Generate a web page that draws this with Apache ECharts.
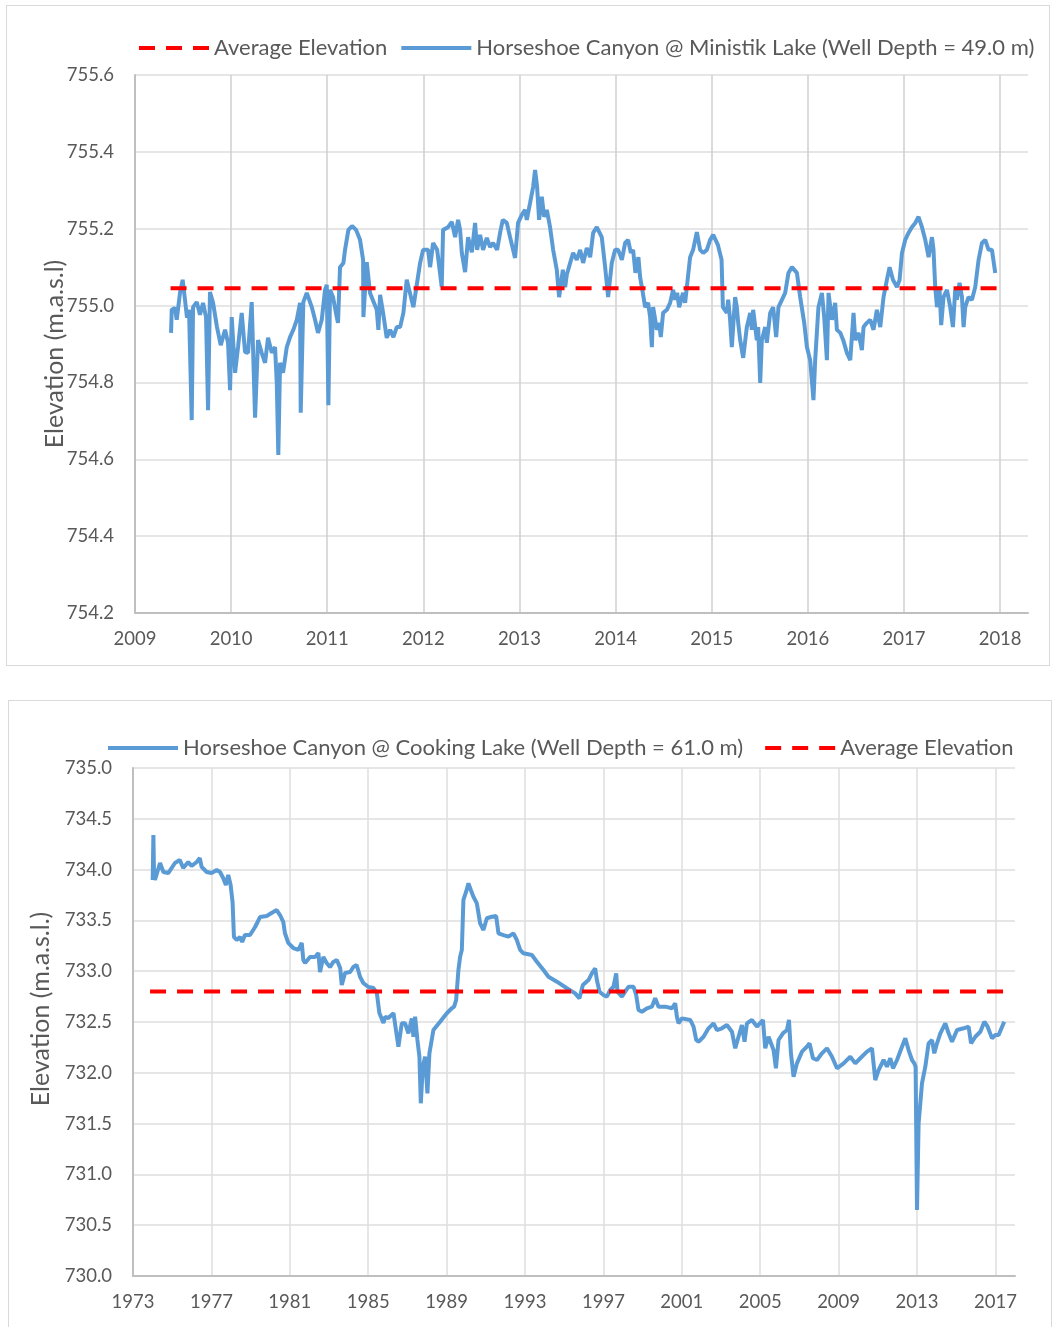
<!DOCTYPE html>
<html>
<head>
<meta charset="utf-8">
<script src="https://cdn.jsdelivr.net/npm/echarts@6/dist/echarts.min.js"></script>
<style>
  body { margin: 0; background: #fff; width: 1052px; height: 1327px; position: relative; overflow: hidden; }
  .box { position: absolute; border: 1px solid #d9d9d9; box-sizing: border-box; }
  #top { left: 6px; top: 5px; width: 1044px; height: 661px; }
  #bottom { left: 8px; top: 700px; width: 1044px; height: 632px; }
</style>
</head>
<body>
<div id="top" class="box"></div>
<div id="bottom" class="box"></div>
<script>
// Ministik Lake well (decimal year, elevation m.a.s.l.)
const ministikYears = [
  2009.375, 2009.382, 2009.416, 2009.434, 2009.468, 2009.496, 2009.520, 2009.541, 2009.562, 2009.590,
  2009.604, 2009.642, 2009.676, 2009.708, 2009.739, 2009.760, 2009.780, 2009.812, 2009.853, 2009.892,
  2009.937, 2009.968, 2009.989, 2010.006, 2010.041, 2010.072, 2010.110, 2010.145, 2010.176, 2010.214,
  2010.249, 2010.280, 2010.318, 2010.353, 2010.384, 2010.423, 2010.457, 2010.475, 2010.491, 2010.509,
  2010.540, 2010.579, 2010.613, 2010.647, 2010.683, 2010.717, 2010.724, 2010.751, 2010.787, 2010.839,
  2010.873, 2010.904, 2010.943, 2010.977, 2010.995, 2011.012, 2011.029, 2011.060, 2011.099, 2011.112,
  2011.133, 2011.168, 2011.185, 2011.220, 2011.258, 2011.300, 2011.341, 2011.373, 2011.376, 2011.411,
  2011.445, 2011.515, 2011.532, 2011.550, 2011.581, 2011.619, 2011.654, 2011.688, 2011.723, 2011.758,
  2011.792, 2011.827, 2011.896, 2011.966, 2011.997, 2012.049, 2012.070, 2012.101, 2012.143, 2012.153,
  2012.191, 2012.205, 2012.257, 2012.296, 2012.330, 2012.361, 2012.382, 2012.400, 2012.434, 2012.465,
  2012.504, 2012.538, 2012.559, 2012.590, 2012.621, 2012.660, 2012.694, 2012.725, 2012.767, 2012.798,
  2012.826, 2012.868, 2012.902, 2012.954, 2012.985, 2013.024, 2013.058, 2013.076, 2013.110, 2013.142,
  2013.162, 2013.183, 2013.204, 2013.232, 2013.256, 2013.284, 2013.318, 2013.350, 2013.388, 2013.412,
  2013.451, 2013.475, 2013.492, 2013.527, 2013.558, 2013.596, 2013.631, 2013.662, 2013.700, 2013.735,
  2013.766, 2013.804, 2013.856, 2013.891, 2013.922, 2013.960, 2013.995, 2014.026, 2014.065, 2014.099,
  2014.130, 2014.158, 2014.182, 2014.206, 2014.237, 2014.255, 2014.283, 2014.307, 2014.338, 2014.359,
  2014.377, 2014.390, 2014.429, 2014.453, 2014.470, 2014.494, 2014.533, 2014.567, 2014.598, 2014.619,
  2014.640, 2014.661, 2014.689, 2014.702, 2014.723, 2014.741, 2014.775, 2014.806, 2014.845, 2014.879,
  2014.911, 2014.949, 2014.983, 2015.015, 2015.064, 2015.102, 2015.116, 2015.157, 2015.171, 2015.191,
  2015.209, 2015.243, 2015.261, 2015.275, 2015.296, 2015.327, 2015.365, 2015.400, 2015.417, 2015.431,
  2015.469, 2015.483, 2015.504, 2015.521, 2015.556, 2015.573, 2015.608, 2015.639, 2015.670, 2015.694,
  2015.730, 2015.764, 2015.798, 2015.834, 2015.886, 2015.920, 2015.962, 2015.990, 2016.024, 2016.058,
  2016.076, 2016.110, 2016.146, 2016.170, 2016.198, 2016.215, 2016.250, 2016.284, 2016.302, 2016.337,
  2016.368, 2016.406, 2016.441, 2016.475, 2016.493, 2016.527, 2016.562, 2016.579, 2016.614, 2016.649,
  2016.683, 2016.718, 2016.753, 2016.787, 2016.822, 2016.850, 2016.885, 2016.927, 2016.954, 2016.979,
  2017.013, 2017.047, 2017.082, 2017.117, 2017.151, 2017.187, 2017.221, 2017.256, 2017.291, 2017.307,
  2017.325, 2017.343, 2017.370, 2017.387, 2017.411, 2017.447, 2017.481, 2017.509, 2017.533, 2017.551,
  2017.578, 2017.603, 2017.620, 2017.637, 2017.671, 2017.707, 2017.741, 2017.776, 2017.811, 2017.845,
  2017.880, 2017.915, 2017.949
];
const ministikElev = [
  754.929, 754.989, 754.994, 754.963, 755.033, 755.067, 755.015, 754.968, 754.989, 754.702,
  754.996, 755.009, 754.976, 755.007, 754.970, 754.728, 755.035, 755.007, 754.944, 754.897,
  754.937, 754.903, 754.780, 754.970, 754.825, 754.892, 754.981, 754.879, 754.877, 755.009,
  754.708, 754.910, 754.877, 754.851, 754.916, 754.877, 754.892, 754.799, 754.611, 754.851,
  754.825, 754.892, 754.918, 754.937, 754.963, 755.007, 754.721, 755.009, 755.033, 754.996,
  754.963, 754.929, 754.963, 755.041, 755.054, 754.741, 755.041, 755.022, 754.970, 754.955,
  755.100, 755.111, 755.145, 755.197, 755.207, 755.197, 755.171, 755.119, 754.970, 755.113,
  755.033, 754.989, 754.937, 755.028, 754.981, 754.916, 754.937, 754.918, 754.944, 754.944,
  754.981, 755.067, 754.996, 755.111, 755.145, 755.145, 755.100, 755.163, 755.145, 755.126,
  755.048, 755.197, 755.204, 755.218, 755.178, 755.223, 755.197, 755.137, 755.087, 755.178,
  755.139, 755.215, 755.145, 755.184, 755.145, 755.176, 755.152, 755.163, 755.145, 755.189,
  755.223, 755.215, 755.178, 755.124, 755.215, 755.236, 755.249, 755.223, 755.267, 755.309,
  755.353, 755.309, 755.223, 755.283, 755.231, 755.249, 755.204, 755.145, 755.093, 755.022,
  755.093, 755.048, 755.080, 755.111, 755.137, 755.119, 755.145, 755.111, 755.150, 755.126,
  755.189, 755.204, 755.178, 755.100, 755.022, 755.111, 755.145, 755.145, 755.119, 755.163,
  755.171, 755.137, 755.145, 755.085, 755.126, 755.074, 755.033, 754.996, 755.007, 754.970,
  754.892, 754.996, 754.937, 754.955, 754.918, 754.981, 754.989, 755.007, 755.041, 755.015,
  755.033, 754.996, 755.022, 755.033, 755.007, 755.048, 755.126, 755.145, 755.191, 755.145,
  755.137, 755.145, 755.171, 755.184, 755.158, 755.119, 754.996, 754.981, 755.015, 754.963,
  754.892, 755.022, 754.996, 754.955, 754.910, 754.864, 754.944, 754.981, 754.937, 754.989,
  754.910, 754.944, 754.799, 754.910, 754.944, 754.903, 754.981, 754.996, 754.918, 754.996,
  755.015, 755.033, 755.085, 755.100, 755.085, 755.022, 754.955, 754.892, 754.858, 754.754,
  754.858, 754.996, 755.033, 754.970, 754.858, 755.033, 754.963, 755.007, 754.937, 754.929,
  754.910, 754.877, 754.858, 754.981, 754.910, 754.929, 754.884, 754.944, 754.955, 754.963,
  754.937, 754.989, 754.944, 755.022, 755.067, 755.100, 755.067, 755.048, 755.067, 755.137,
  755.171, 755.189, 755.204, 755.215, 755.231, 755.204, 755.171, 755.126, 755.178, 755.145,
  755.048, 754.996, 755.041, 754.949, 755.022, 755.041, 754.996, 754.944, 755.041, 755.015,
  755.059, 755.022, 754.944, 754.996, 755.022, 755.015, 755.048, 755.119, 755.163, 755.171,
  755.145, 755.145, 755.085
];
const ministikAvgYears = [2009.37, 2018.0];
const ministikAvg = [755.045, 755.045];

// Cooking Lake well (decimal year, elevation m.a.s.l.)
const cookingYears = [
  1974.005, 1974.040, 1974.070, 1974.120, 1974.380, 1974.550, 1974.800, 1975.140, 1975.390, 1975.560,
  1975.820, 1975.990, 1976.250, 1976.410, 1976.500, 1976.760, 1977.010, 1977.270, 1977.440, 1977.600,
  1977.740, 1977.860, 1977.980, 1978.080, 1978.150, 1978.290, 1978.460, 1978.570, 1978.710, 1978.970,
  1979.230, 1979.480, 1979.820, 1980.070, 1980.330, 1980.500, 1980.670, 1980.750, 1980.920, 1981.180,
  1981.440, 1981.610, 1981.690, 1981.780, 1982.030, 1982.290, 1982.460, 1982.540, 1982.710, 1982.880,
  1983.050, 1983.220, 1983.400, 1983.570, 1983.650, 1983.820, 1984.080, 1984.240, 1984.410, 1984.590,
  1984.750, 1985.010, 1985.270, 1985.440, 1985.570, 1985.780, 1985.860, 1986.030, 1986.290, 1986.541,
  1986.714, 1986.883, 1987.051, 1987.225, 1987.307, 1987.393, 1987.511, 1987.613, 1987.684, 1987.786,
  1987.904, 1988.021, 1988.123, 1988.327, 1988.669, 1989.011, 1989.266, 1989.384, 1989.486, 1989.603,
  1989.690, 1989.777, 1989.858, 1989.996, 1990.114, 1990.236, 1990.369, 1990.543, 1990.711, 1990.880,
  1991.053, 1991.308, 1991.528, 1991.645, 1991.900, 1992.156, 1992.411, 1992.584, 1992.753, 1992.921,
  1993.350, 1993.605, 1993.942, 1994.197, 1994.626, 1995.136, 1995.560, 1995.779, 1995.953, 1996.239,
  1996.412, 1996.580, 1996.667, 1996.800, 1997.004, 1997.178, 1997.346, 1997.515, 1997.653, 1997.719,
  1997.943, 1998.112, 1998.280, 1998.535, 1998.673, 1998.790, 1998.964, 1999.219, 1999.474, 1999.643,
  1999.811, 2000.153, 2000.495, 2000.664, 2000.750, 2000.832, 2001.006, 2001.429, 2001.598, 2001.736,
  2001.853, 2002.108, 2002.363, 2002.618, 2002.792, 2003.047, 2003.302, 2003.558, 2003.726, 2003.895,
  2004.068, 2004.201, 2004.323, 2004.578, 2004.834, 2005.140, 2005.257, 2005.426, 2005.681, 2005.803,
  2005.936, 2006.161, 2006.365, 2006.467, 2006.569, 2006.702, 2006.875, 2007.130, 2007.386, 2007.518,
  2007.692, 2007.896, 2008.151, 2008.406, 2008.662, 2008.917, 2009.254, 2009.596, 2009.851, 2010.106,
  2010.448, 2010.703, 2010.872, 2011.040, 2011.295, 2011.469, 2011.637, 2011.775, 2011.980, 2012.235,
  2012.403, 2012.571, 2012.745, 2012.862, 2012.929, 2013.000, 2013.082, 2013.255, 2013.424, 2013.592,
  2013.766, 2013.883, 2014.021, 2014.190, 2014.445, 2014.613, 2014.787, 2015.042, 2015.379, 2015.634,
  2015.757, 2015.976, 2016.231, 2016.435, 2016.604, 2016.828, 2016.996, 2017.165, 2017.450
];
const cookingElev = [
  733.898, 734.341, 733.996, 733.898, 734.065, 733.976, 733.966, 734.065, 734.094, 734.016,
  734.075, 734.035, 734.075, 734.114, 734.026, 733.976, 733.966, 733.996, 733.976, 733.917,
  733.848, 733.947, 733.848, 733.681, 733.337, 733.307, 733.337, 733.287, 733.356, 733.356,
  733.435, 733.533, 733.543, 733.573, 733.602, 733.553, 733.484, 733.376, 733.278, 733.228,
  733.209, 733.278, 733.110, 733.081, 733.140, 733.140, 733.179, 732.992, 733.140, 733.081,
  733.041, 733.091, 733.110, 733.031, 732.864, 732.982, 732.992, 733.041, 733.061, 732.943,
  732.884, 732.844, 732.834, 732.785, 732.588, 732.490, 732.549, 732.539, 732.588, 732.257,
  732.487, 732.487, 732.389, 732.536, 732.355, 732.552, 732.323, 732.158, 731.700, 732.060,
  732.158, 731.798, 732.192, 732.421, 732.503, 732.586, 732.635, 732.651, 732.716, 733.012,
  733.143, 733.209, 733.701, 733.782, 733.865, 733.799, 733.733, 733.668, 733.471, 733.405,
  733.521, 733.536, 733.543, 733.373, 733.356, 733.340, 733.373, 733.307, 733.209, 733.176,
  733.159, 733.093, 733.012, 732.946, 732.897, 732.832, 732.782, 732.733, 732.864, 732.913,
  732.979, 733.028, 732.913, 732.798, 732.766, 732.749, 732.815, 732.847, 732.979, 732.798,
  732.749, 732.798, 732.847, 732.847, 732.766, 732.618, 732.601, 732.635, 732.651, 732.733,
  732.651, 732.651, 732.635, 732.684, 732.552, 732.487, 732.536, 732.520, 732.454, 732.323,
  732.306, 732.355, 732.438, 732.487, 732.421, 732.438, 732.470, 732.404, 732.241, 732.355,
  732.470, 732.306, 732.487, 732.520, 732.454, 732.520, 732.241, 732.355, 732.224, 732.044,
  732.323, 732.389, 732.421, 732.520, 732.192, 731.961, 732.093, 732.208, 732.257, 732.290,
  732.143, 732.126, 732.192, 732.241, 732.158, 732.044, 732.093, 732.158, 732.093, 732.143,
  732.208, 732.241, 731.929, 732.027, 732.126, 732.060, 732.143, 732.044, 732.126, 732.257,
  732.339, 732.224, 732.126, 732.093, 732.060, 730.649, 731.503, 731.897, 732.060, 732.290,
  732.323, 732.192, 732.290, 732.389, 732.487, 732.389, 732.306, 732.421, 732.438, 732.454,
  732.290, 732.355, 732.404, 732.503, 732.454, 732.339, 732.372, 732.372, 732.503
];
const cookingAvgYears = [1973.87, 2017.5];
const cookingAvg = [732.8, 732.8];

const ministikLabel = 'Horseshoe Canyon @ Ministik Lake (Well Depth = 49.0 m)';
const cookingLabel = 'Horseshoe Canyon @ Cooking Lake (Well Depth = 61.0 m)';
const avgLabel = 'Average Elevation';

const FONT = 'Lato, sans-serif';
const TEXT = '#595959';
const BLUE = '#5B9BD5';
const RED = '#FF0000';

function pairs(xs, ys) {
  return xs.map(function (x, i) { return [x, ys[i]]; });
}

function initChart(dom, cfg) {
  const chart = echarts.init(dom);
  const option = {
    animation: false,
    textStyle: { fontFamily: FONT, color: TEXT },
    legend: {
      data: cfg.legendOrder,
      left: cfg.legendLeft,
      top: cfg.legendTop,
      padding: 0,
      itemWidth: 70,
      itemHeight: 14,
      itemGap: cfg.legendGap,
      itemStyle: { opacity: 0 },
      lineStyle: { width: 4 },
      textStyle: { fontFamily: FONT, fontSize: 22, color: TEXT }
    },
    grid: cfg.grid,
    xAxis: {
      type: 'value',
      min: cfg.xMin,
      max: cfg.xMax,
      interval: cfg.xStep,
      axisLine: { lineStyle: { color: '#bfbfbf', width: 2 } },
      axisTick: { show: false },
      axisLabel: {
        showMaxLabel: false,
        margin: 17,
        fontSize: 18.5,
        color: TEXT,
        formatter: function (v) { return String(Math.round(v)); }
      },
      splitLine: {
        show: true,
        showMinLine: false,
        showMaxLine: false,
        lineStyle: { color: cfg.vGridColor, width: 1.5 }
      }
    },
    yAxis: {
      type: 'value',
      min: cfg.yMin,
      max: cfg.yMax,
      interval: cfg.yStep,
      name: cfg.yName,
      nameLocation: 'middle',
      nameGap: cfg.yNameGap,
      nameMoveOverlap: false,
      nameTextStyle: { fontFamily: FONT, fontSize: 25, color: TEXT, padding: cfg.yNamePad },
      axisLine: { show: true, lineStyle: { color: '#bfbfbf', width: 2 } },
      axisTick: { show: false },
      axisLabel: {
        margin: 21,
        fontSize: 18.5,
        color: TEXT,
        formatter: function (v) { return v.toFixed(1); }
      },
      splitLine: { lineStyle: { color: '#dedede', width: 1.5 } }
    },
    series: [
      {
        name: cfg.wellLabel,
        type: 'line',
        data: pairs(cfg.years, cfg.elev),
        symbol: 'none',
        color: BLUE,
        lineStyle: { color: BLUE, width: 4 },
        z: 2
      },
      {
        name: avgLabel,
        type: 'line',
        data: pairs(cfg.avgYears, cfg.avg),
        symbol: 'none',
        color: RED,
        lineStyle: { color: RED, width: 4, type: [16, 11] },
        z: 3
      }
    ]
  };
  chart.setOption(option);
  return chart;
}

initChart(document.getElementById('top'), {
  legendOrder: [avgLabel, ministikLabel],
  legendLeft: 130,
  legendTop: 31,
  legendGap: 12,
  grid: { left: 128, top: 69, width: 893, height: 538 },
  xMin: 2009, xMax: 2018.29, xStep: 1,
  yMin: 754.2, yMax: 755.6, yStep: 0.2,
  yName: 'Elevation (m.a.s.l)',
  yNameGap: 68,
  yNamePad: [0, 20, 0, 0],
  vGridColor: '#cfcfcf',
  wellLabel: ministikLabel,
  years: ministikYears, elev: ministikElev,
  avgYears: ministikAvgYears, avg: ministikAvg
});

initChart(document.getElementById('bottom'), {
  legendOrder: [cookingLabel, avgLabel],
  legendLeft: 97,
  legendTop: 36,
  legendGap: 20,
  grid: { left: 124, top: 67, width: 882, height: 508 },
  xMin: 1973, xMax: 2018, xStep: 4,
  yMin: 730, yMax: 735, yStep: 0.5,
  yName: 'Elevation (m.a.s.l.)',
  yNameGap: 80,
  yNamePad: [0, 0, 0, 26],
  vGridColor: '#dedede',
  wellLabel: cookingLabel,
  years: cookingYears, elev: cookingElev,
  avgYears: cookingAvgYears, avg: cookingAvg
});
</script>
</body>
</html>
